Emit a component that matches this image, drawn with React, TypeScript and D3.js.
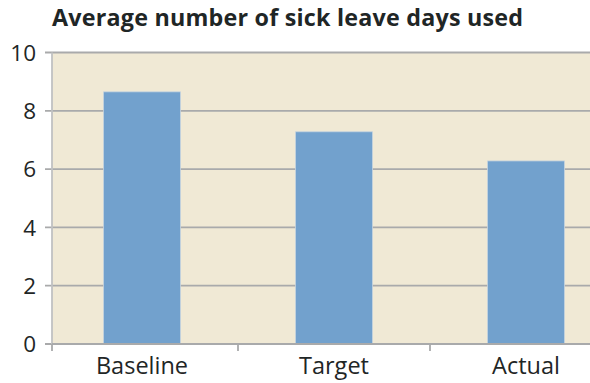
import React from "react";
import * as d3 from "d3";

const categories = ["Baseline", "Target", "Actual"];
const values = [8.65, 7.28, 6.28];
const yTicks = [0, 2, 4, 6, 8, 10];
const title = "Average number of sick leave days used";

const W = 590;
const H = 383;
const FONT = "'Open Sans', 'Noto Sans', sans-serif";

export default function App() {
  const plotLeft = 52;
  const plotTop = 52.5;
  const plotBottom = 344;
  const bandStart = 46;
  const bandW = 192;

  const x = d3
    .scaleBand<string>()
    .domain(categories)
    .range([bandStart, bandStart + bandW * categories.length])
    .paddingInner(0.6)
    .paddingOuter(0.3);
  const xb = d3
    .scaleBand<string>()
    .domain(categories)
    .range([bandStart, bandStart + bandW * categories.length]);
  const y = d3.scaleLinear().domain([0, 10]).range([plotBottom, plotTop]);

  const grid = "#a9aaab";

  return (
    <svg
      width={W}
      height={H}
      style={{ position: "absolute", left: 0, top: 0, background: "#fff" }}
    >
      <text
        x={52}
        y={26}
        fontFamily={FONT}
        fontWeight={700}
        fontSize={23.3}
        textLength={471}
        lengthAdjust="spacing"
        fill="#1f2626"
      >
        {title}
      </text>
      <rect
        x={plotLeft}
        y={y(10)}
        width={W - plotLeft}
        height={y(0) - y(10)}
        fill="#f0e9d5"
      />
      {yTicks.map((t) => (
        <g key={t}>
          <line
            x1={45}
            x2={W}
            y1={y(t)}
            y2={y(t)}
            stroke={grid}
            strokeWidth={1.8}
          />
          <text
            x={36}
            y={y(t)}
            dy="0.36em"
            textAnchor="end"
            fontFamily={FONT}
            fontSize={22.5}
            fill="#1f2626"
          >
            {t}
          </text>
        </g>
      ))}
      {categories.map((c, i) => (
        <rect
          key={c}
          x={x(c)}
          y={y(values[i])}
          width={x.bandwidth()}
          height={y(0) - y(values[i])}
          fill="#72a1cd"
          stroke="#c4d3df"
          strokeWidth={0.8}
        />
      ))}
      <line
        x1={plotLeft}
        x2={plotLeft}
        y1={y(10)}
        y2={y(0)}
        stroke="#c0c1c2"
        strokeWidth={1.8}
      />
      <line
        x1={plotLeft}
        x2={W}
        y1={y(0)}
        y2={y(0)}
        stroke={grid}
        strokeWidth={1.8}
      />
      {[plotLeft, ...categories.slice(1).map((c) => xb(c) as number)].map(
        (px, i) => (
          <line
            key={i}
            x1={px}
            x2={px}
            y1={y(0)}
            y2={y(0) + 7}
            stroke={grid}
            strokeWidth={1.8}
          />
        )
      )}
      {categories.map((c) => (
        <text
          key={c}
          x={(x(c) as number) + x.bandwidth() / 2}
          y={373.5}
          textAnchor="middle"
          fontFamily={FONT}
          fontSize={23.5}
          fill="#1f2626"
        >
          {c}
        </text>
      ))}
    </svg>
  );
}
